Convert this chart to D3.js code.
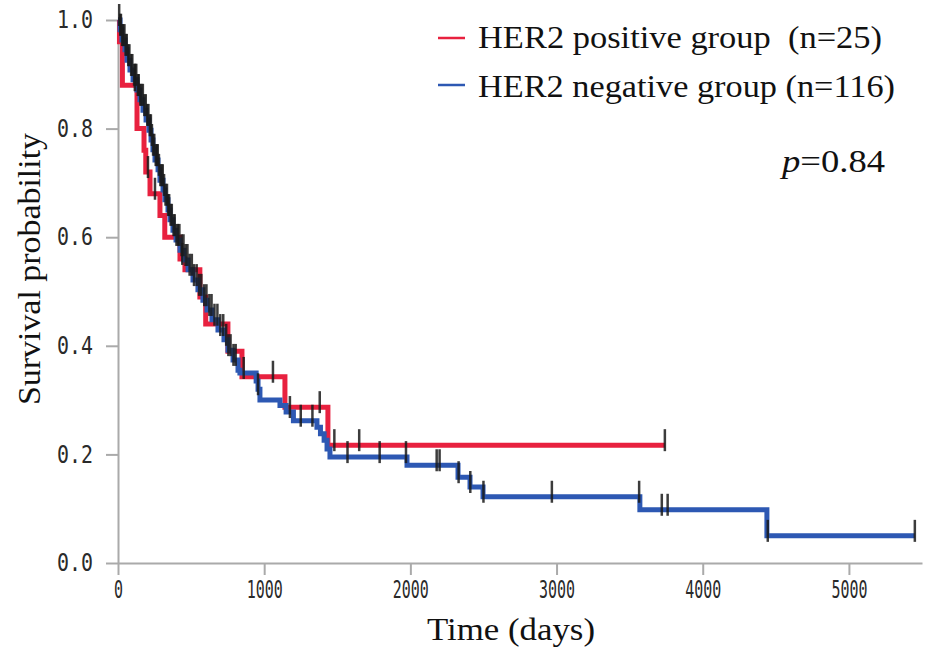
<!DOCTYPE html>
<html>
<head>
<meta charset="utf-8">
<script src="https://cdn.jsdelivr.net/npm/d3@7"></script>
<style>
  body { margin: 0; background: #fff; }
  svg { display: block; }
</style>
</head>
<body>
<svg id="km" width="925" height="651"></svg>
<script>
// HER2 positive group (n=25): step times (days) and survival from that time on
const posTimes = [0, 10, 30, 130, 178, 190, 219, 287, 320, 424, 458, 560, 600, 752, 848, 1142, 1436];
const posSurv  = [1.0, 0.96, 0.88, 0.80, 0.76, 0.72, 0.68, 0.64, 0.60, 0.56, 0.54, 0.49, 0.44, 0.39, 0.343, 0.287, 0.217];
const posEnd = 3741;
const posCensor = [115, 205, 253, 440, 1060, 1380, 1480, 1650, 3741];

// HER2 negative group (n=116)
const negTimes = [0, 14, 27, 48, 62, 82, 103, 130, 150, 171, 192, 212, 226, 239, 253, 274, 287, 308, 321, 342,
  356, 376, 397, 424, 451, 479, 513, 547, 581, 609, 643, 684, 725, 752, 787, 821, 834,
  945, 958, 971, 1108, 1150, 1200, 1361, 1385, 1410, 1430, 1450, 1977, 2326, 2408, 2497, 3570, 4439];
const negSurv = [1.0, 0.982, 0.963, 0.945, 0.926, 0.908, 0.890, 0.871, 0.853, 0.834, 0.816, 0.797, 0.779, 0.761, 0.742, 0.724, 0.705, 0.687, 0.669, 0.650,
  0.632, 0.613, 0.595, 0.576, 0.558, 0.540, 0.521, 0.503, 0.484, 0.466, 0.448, 0.429, 0.411, 0.392, 0.374, 0.355, 0.350,
  0.335, 0.320, 0.300, 0.290, 0.278, 0.262, 0.250, 0.238, 0.226, 0.210, 0.195, 0.180, 0.158, 0.140, 0.122, 0.098, 0.050];
const negEnd = 5451;
const negCensor = [8, 15, 20, 28, 35, 44, 52, 60, 70, 78, 90, 98, 110, 118, 125, 135, 142, 152, 160, 170, 180, 190,
  200, 208, 218, 225, 232, 240, 248, 258, 265, 272, 280, 290, 298, 306, 315, 325, 335, 343,
  350, 360, 368, 380, 388, 400, 410, 420, 435, 448, 462, 475, 490, 505, 520, 538, 555, 570, 590, 605,
  625, 640, 660, 680, 700, 720, 740, 755, 770, 790, 805, 860, 958, 1176, 1250, 1330,
  1570, 1790, 1970, 2180, 2200, 2330, 2410, 2500, 2968, 3565, 3720, 3760, 4445, 5451];

const xTicks = [0, 1000, 2000, 3000, 4000, 5000];
const yTicks = [0, 0.2, 0.4, 0.6, 0.8, 1.0];

const groups = [
  { name: "HER2 positive group  (n=25)", width: 404, times: posTimes, surv: posSurv, end: posEnd, censor: posCensor, color: "#e8213f" },
  { name: "HER2 negative group (n=116)", width: 417, times: negTimes, surv: negSurv, end: negEnd, censor: negCensor, color: "#2d58b3" }
];

const svg = d3.select("#km");
const x = d3.scaleLinear().domain([0, 5500]).range([118, 922]);
const y = d3.scaleLinear().domain([0, 1]).range([563, 20]);

// axes
const gx = svg.append("g")
  .attr("transform", "translate(0,563)")
  .call(d3.axisBottom(x).tickValues(xTicks).tickFormat(d3.format("d")).tickSize(12).tickSizeOuter(0).tickPadding(6));
const gy = svg.append("g")
  .attr("transform", "translate(118,0)")
  .call(d3.axisLeft(y).tickValues(yTicks).tickFormat(d3.format(".1f")).tickSize(12).tickSizeOuter(0).tickPadding(13));

[gx, gy].forEach(g => {
  g.select(".domain").attr("stroke", "#aaa").attr("stroke-width", 2);
  g.selectAll(".tick line").attr("stroke", "#aaa").attr("stroke-width", 2);
  g.selectAll(".tick text")
    .attr("fill", "#2a2a2a")
    .attr("font-family", "'DejaVu Sans Mono', monospace")
    .attr("font-size", 24)
    .attr("lengthAdjust", "spacingAndGlyphs");
});
gx.selectAll(".tick text").attr("textLength", function() { return this.textContent.length * 9; });
gy.selectAll(".tick text").attr("textLength", 36);

// survival curves
const stepAt = (grp, t) => {
  let s = grp.surv[0];
  grp.times.forEach((tt, i) => { if (tt <= t) s = grp.surv[i]; });
  return s;
};
const line = d3.line().x(d => x(d[0])).y(d => y(d[1])).curve(d3.curveStepAfter);

groups.forEach(grp => {
  const pts = grp.times.map((t, i) => [t, grp.surv[i]]);
  pts.push([grp.end, grp.surv[grp.surv.length - 1]]);
  svg.append("path")
    .datum(pts)
    .attr("fill", "none")
    .attr("stroke", grp.color)
    .attr("stroke-width", 5)
    .attr("d", line);
});

// censor marks
groups.forEach(grp => {
  svg.append("g").selectAll("line")
    .data(grp.censor)
    .enter().append("line")
    .attr("x1", d => x(d)).attr("x2", d => x(d))
    .attr("y1", d => y(stepAt(grp, d)) - 16)
    .attr("y2", d => y(stepAt(grp, d)) + 6)
    .attr("stroke", "#1a1a1a")
    .attr("stroke-opacity", 0.85)
    .attr("stroke-width", 2.5);
});

// axis titles
svg.append("text")
  .attr("x", 427).attr("y", 640)
  .attr("font-family", "'Liberation Serif', serif")
  .attr("font-size", 31)
  .attr("textLength", 168)
  .attr("lengthAdjust", "spacingAndGlyphs")
  .attr("fill", "#111")
  .text("Time (days)");

svg.append("text")
  .attr("transform", "translate(40,405) rotate(-90)")
  .attr("font-family", "'Liberation Serif', serif")
  .attr("font-size", 31)
  .attr("textLength", 272)
  .attr("lengthAdjust", "spacingAndGlyphs")
  .attr("fill", "#111")
  .text("Survival probability");

// legend
const legend = svg.append("g");
groups.forEach((grp, i) => {
  legend.append("line")
    .attr("x1", 438).attr("x2", 465)
    .attr("y1", 38 + i * 47).attr("y2", 38 + i * 47)
    .attr("stroke", grp.color).attr("stroke-width", 2.5);
  legend.append("text")
    .attr("x", 478).attr("y", 48 + i * 49)
    .attr("font-family", "'Liberation Serif', serif")
    .attr("font-size", 31)
    .attr("textLength", grp.width)
    .attr("lengthAdjust", "spacingAndGlyphs")
    .style("white-space", "pre")
    .attr("fill", "#111")
    .text(grp.name);
});

const pText = svg.append("text")
  .attr("x", 782).attr("y", 172)
  .attr("font-family", "'Liberation Serif', serif")
  .attr("font-size", 31)
  .attr("textLength", 103)
  .attr("lengthAdjust", "spacingAndGlyphs")
  .attr("fill", "#111");
pText.append("tspan").attr("font-style", "italic").text("p");
pText.append("tspan").text("=0.84");
</script>
</body>
</html>
